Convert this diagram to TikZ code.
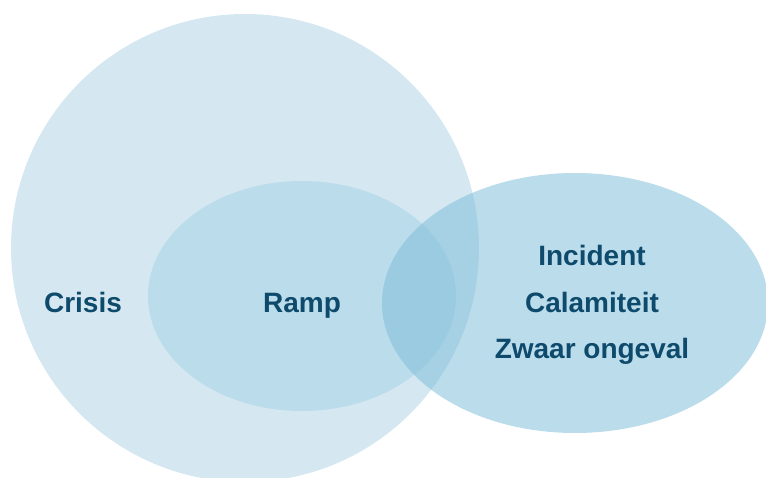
\documentclass[tikz,border=0pt]{standalone}
\usepackage{fontspec}
\setmainfont{Liberation Sans}
\definecolor{crisisfill}{HTML}{D5E8F2}
\definecolor{rampfill}{HTML}{BBDCEB}
\definecolor{incfill}{HTML}{7BBBD8}
\definecolor{labelblue}{HTML}{0E4A6B}

\begin{document}
\begin{tikzpicture}[
x=1pt, y=-1pt,
every node/.style={
    font=\bfseries\fontsize{28}{30}\selectfont,
    text=labelblue,
    anchor=base,
    inner sep=0pt
},
blob/.style={fill=#1}
]

\clip (0,0) rectangle (766,477);

%---------------- Sets ----------------
\fill[blob=crisisfill] (245,248) circle (234);
\fill[blob=rampfill] (302,296) ellipse (154 and 115);
\fill[blob=incfill, fill opacity=0.515] (575,303) ellipse (193 and 130);

%---------------- Labels ----------------
\node (crisis) at (83,312) {Crisis};
\node (ramp) at (302,312) {Ramp};

\node (incident) at (592,265) {Incident};
\node (calamiteit) at (592,312) {Calamiteit};
\node (ongeval) at (592,358) {Zwaar ongeval};

\end{tikzpicture}
\end{document}
